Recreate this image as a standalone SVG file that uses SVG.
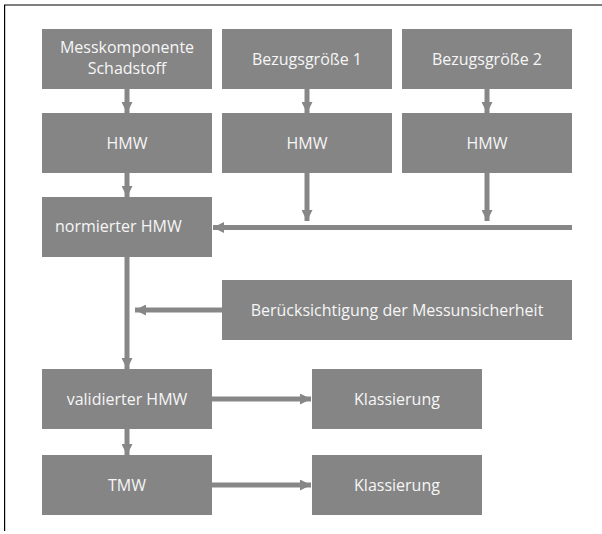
<svg xmlns="http://www.w3.org/2000/svg" width="602" height="534" viewBox="0 0 602 534">
<defs>
<style>
.box{fill:#858585}
.t{font-family:"Open Sans","Noto Sans","Liberation Sans",sans-serif;font-size:16px;fill:#f6f6f6;text-anchor:middle}
.l{text-anchor:start}
.c{stroke:#878787;stroke-width:5;fill:none}
.frame{stroke:#000;stroke-width:1.2;fill:none}
</style>
<marker id="ah" viewBox="0 0 11 11" refX="11" refY="5.5" markerWidth="11" markerHeight="11" markerUnits="userSpaceOnUse" orient="auto">
<path d="M0,0 L11,5.5 L0,11 z" fill="#878787"/>
</marker>
</defs>
<rect width="602" height="534" fill="#fff"/>
<path class="frame" d="M4.6,531 V5 H602"/>
<g id="connectors">
<path class="c" d="M127,89 V113" marker-end="url(#ah)"/>
<path class="c" d="M307,89 V113" marker-end="url(#ah)"/>
<path class="c" d="M487,89 V113" marker-end="url(#ah)"/>
<path class="c" d="M127,173 V197" marker-end="url(#ah)"/>
<path class="c" d="M307,173 V221" marker-end="url(#ah)"/>
<path class="c" d="M487,173 V221" marker-end="url(#ah)"/>
<path class="c" d="M572,227.5 H213" marker-end="url(#ah)"/>
<path class="c" d="M127,257 V369" marker-end="url(#ah)"/>
<path class="c" d="M222,310 H135" marker-end="url(#ah)"/>
<path class="c" d="M127,429 V455" marker-end="url(#ah)"/>
<path class="c" d="M212,399 H311" marker-end="url(#ah)"/>
<path class="c" d="M212,485 H311" marker-end="url(#ah)"/>
</g>
<g id="n_mess"><rect class="box" x="42" y="29" width="170" height="60"/><text class="t" x="127" y="52.5">Messkomponente</text><text class="t" x="127" y="73.5">Schadstoff</text></g>
<g id="n_bez1"><rect class="box" x="222" y="29" width="170" height="60"/><text class="t" x="307" y="64.5">Bezugsgröße 1</text></g>
<g id="n_bez2"><rect class="box" x="402" y="29" width="170" height="60"/><text class="t" x="487" y="64.5">Bezugsgröße 2</text></g>
<g id="n_hmw1"><rect class="box" x="42" y="113" width="170" height="60"/><text class="t" x="127" y="148.5">HMW</text></g>
<g id="n_hmw2"><rect class="box" x="222" y="113" width="170" height="60"/><text class="t" x="307" y="148.5">HMW</text></g>
<g id="n_hmw3"><rect class="box" x="402" y="113" width="170" height="60"/><text class="t" x="487" y="148.5">HMW</text></g>
<g id="n_norm"><rect class="box" x="42" y="197" width="170" height="60"/><text class="t l" x="55" y="232">normierter HMW</text></g>
<g id="n_beruck"><rect class="box" x="222" y="280" width="350" height="60"/><text class="t" x="397" y="315.5">Berücksichtigung der Messunsicherheit</text></g>
<g id="n_valid"><rect class="box" x="42" y="369" width="170" height="60"/><text class="t" x="127" y="404.5">validierter HMW</text></g>
<g id="n_klass1"><rect class="box" x="312" y="369" width="170" height="60"/><text class="t" x="397" y="404.5">Klassierung</text></g>
<g id="n_tmw"><rect class="box" x="42" y="455" width="170" height="60"/><text class="t" x="127" y="490.5">TMW</text></g>
<g id="n_klass2"><rect class="box" x="312" y="455" width="170" height="60"/><text class="t" x="397" y="490.5">Klassierung</text></g>
</svg>
